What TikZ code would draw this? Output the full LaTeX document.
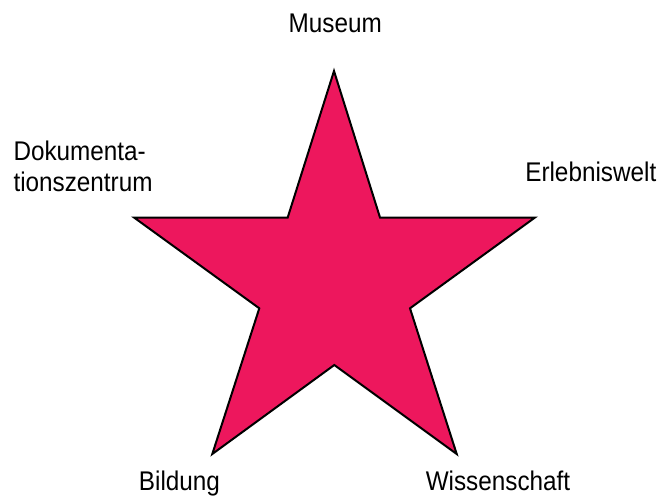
\documentclass[tikz,border=0pt]{standalone}
\usepackage{fontspec}
\newfontfamily\labfont{Liberation Sans}[FakeStretch=0.9]
\definecolor{starred}{RGB}{237,23,93}
\begin{document}
\begin{tikzpicture}[x=1pt,y=-1pt,
  lab/.style={inner sep=0pt,font=\labfont\fontsize{27}{31.7}\selectfont},
  starshape/.style={fill=starred,draw=black,line width=2pt,line join=miter}]
\useasboundingbox (0,0) rectangle (661,498);
\draw[starshape] (334,71) -- (380,217.5) -- (535,217.5) -- (410,308.3) -- (456.7,454)
  -- (334.3,365) -- (212.3,454) -- (259.3,308.3) -- (134,217.5) -- (287.7,217.5) -- cycle;
\node[lab,anchor=base] (museum) at (335.3,32.3) {Museum};
\node[lab,anchor=base] (erleb) at (590.8,181) {Erlebniswelt};
\node[lab,anchor=north west,align=left] (doku) at (13.3,140.5) {Dokumenta-\\tionszentrum};
\node[lab,anchor=base] (bild) at (179.5,490) {Bildung};
\node[lab,anchor=base] (wiss) at (498,490) {Wissenschaft};
\end{tikzpicture}
\end{document}
